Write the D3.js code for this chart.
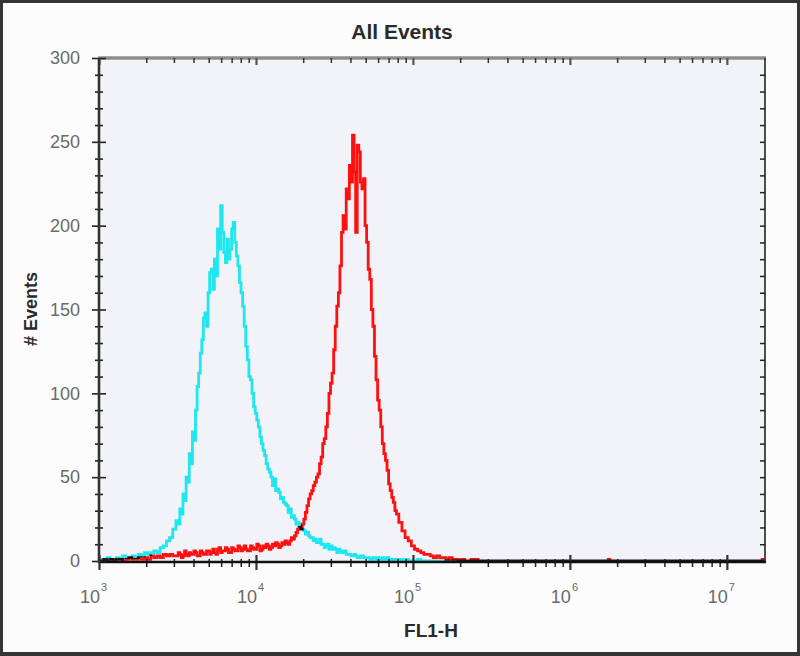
<!DOCTYPE html>
<html>
<head>
<meta charset="utf-8">
<script src="https://cdn.jsdelivr.net/npm/d3@7"></script>
<style>
html,body{margin:0;padding:0;background:#fff}
svg{display:block}
text{font-family:"Liberation Sans",Arial,Helvetica,sans-serif}
</style>
</head>
<body>
<svg id="chart" width="800" height="656"></svg>
<script>
// FL1-H channel position, as log10 of the intensity
const fl1Exp = [
  3.00,3.02,3.04,3.06,3.08,3.10,3.12,3.14,3.16,3.18,
  3.20,3.22,3.24,3.26,3.28,3.30,3.32,3.34,3.36,3.38,
  3.40,3.42,3.44,3.46,3.48,
  3.50,3.51,3.52,3.53,3.54,3.55,3.56,3.57,3.58,3.59,
  3.60,3.61,3.62,3.63,3.64,3.65,3.66,3.67,3.68,3.69,
  3.70,3.71,3.72,3.73,3.74,3.75,3.76,3.77,3.78,3.79,
  3.80,3.81,3.82,3.83,3.84,3.85,3.86,3.87,3.88,3.89,
  3.90,3.91,3.92,3.93,3.94,3.95,3.96,3.97,3.98,3.99,
  4.00,4.01,4.02,4.03,4.04,4.05,4.06,4.07,4.08,4.09,
  4.10,4.11,4.12,4.13,4.14,4.15,4.16,4.17,4.18,4.19,
  4.20,4.21,4.22,4.23,4.24,4.25,4.26,4.27,4.28,4.29,
  4.30,4.31,4.32,4.33,4.34,4.35,4.36,4.37,4.38,4.39,
  4.40,4.41,4.42,4.43,4.44,4.45,4.46,4.47,4.48,4.49,
  4.50,4.51,4.52,4.53,4.54,4.55,4.56,4.57,4.58,4.59,
  4.60,4.61,4.62,4.63,4.64,4.65,4.66,4.67,4.68,4.69,
  4.70,4.71,4.72,4.73,4.74,4.75,4.76,4.77,4.78,4.79,
  4.80,4.81,4.82,4.83,4.84,4.85,4.86,4.87,4.88,4.89,
  4.90,
  4.92,4.94,4.96,4.98,
  5.00,5.02,5.04,5.06,5.08,5.10,5.12,5.14,5.16,5.18,
  5.20,5.22,5.24,5.26,5.28,5.30,5.32,5.34,5.36,5.38,
  5.40,5.41,5.42,5.60,6.24,6.25,6.26,7.00,7.22,7.23,7.24
];
// control (cyan)
const cyanCounts = [
  0,1,0,2,1,1,2,1,3,2,
  2,3,2,4,3,5,4,5,6,5,
  8,9,12,14,19,
  24,22,31,28,40,36,50,47,64,58,
  77,72,90,104,112,124,132,145,148,140,
  160,172,174,162,180,170,198,186,212,196,
  184,178,192,180,186,198,202,190,182,176,
  166,160,152,140,128,120,110,108,100,92,
  88,84,80,74,70,66,63,58,55,53,
  50,45,49,42,43,41,37,38,35,34,
  33,29,31,26,27,25,22,23,21,19,
  19,18,16,17,15,14,14,12,13,11,
  11,13,10,10,8,9,10,7,9,7,
  8,7,5,7,6,5,5,6,4,4,
  4,3,3,4,3,2,2,3,3,2,
  2,2,2,1,1,2,2,1,2,1,
  1,2,1,1,2,1,1,0,1,1,
  1,
  1,0,1,0,
  0,0,1,0,0,0,0,0,0,0,
  0,0,0,0,0,0,0,0,0,0,
  0,0,0,0,0,0,0,0,0,0,0
];
// antibody stained (red)
const redCounts = [
  0,0,1,0,1,0,1,1,0,1,
  2,1,1,2,1,2,1,3,2,3,
  2,4,3,4,3,
  3,5,4,2,3,6,4,3,5,4,
  4,6,5,3,3,6,5,4,4,6,
  6,4,5,7,5,4,7,8,5,6,
  6,8,7,5,5,8,7,6,6,9,
  8,6,7,9,7,6,6,9,8,7,
  7,10,9,6,7,9,8,10,9,7,
  8,10,9,11,10,8,9,11,10,12,
  11,10,12,14,13,15,17,19,20,19,
  22,25,29,33,37,40,42,45,47,50,
  52,58,62,70,73,80,88,100,106,112,
  126,140,152,160,176,196,206,198,222,216,
  236,226,254,232,196,248,244,226,222,228,
  200,190,174,168,150,140,122,108,96,90,
  80,70,64,60,54,46,42,38,35,30,
  28,
  23,18,14,12,
  9,7,6,5,4,4,3,2,3,2,
  2,1,2,1,1,0,1,0,0,1,
  0,1,0,0,0,1,0,0,0,1,1
];
const yMajorTicks = [0,50,100,150,200,250,300];
const xDecades = [3,4,5,6,7];
const titleText = "All Events";
const xTitle = "FL1-H";
const yTitle = "# Events";

const svg = d3.select("#chart");
const plot = {left: 99, right: 765, top: 58, bottom: 561};

const x = d3.scaleLog().domain([1e3, 1.75e7]).range([plot.left, plot.right]);
const y = d3.scaleLinear().domain([0, 300]).range([plot.bottom, plot.top]);

// frame
svg.append("rect").attr("width", 800).attr("height", 656).attr("fill", "#353535");
svg.append("rect").attr("x", 3).attr("y", 3).attr("width", 794).attr("height", 649).attr("fill", "#fcfcfc");
svg.append("rect")
  .attr("x", plot.left).attr("y", plot.top)
  .attr("width", plot.right - plot.left).attr("height", plot.bottom - plot.top)
  .attr("fill", "#f2f3f9");

svg.append("clipPath").attr("id", "plotClip")
  .append("rect").attr("x", plot.left).attr("y", plot.top - 2)
  .attr("width", plot.right - plot.left).attr("height", plot.bottom - plot.top + 2);

const line = d3.line()
  .x(d => x(Math.pow(10, d[0])))
  .y(d => y(d[1]))
  .curve(d3.curveStep);

const curves = svg.append("g").attr("clip-path", "url(#plotClip)");
curves.append("path")
  .datum(fl1Exp.map((e, i) => [e, cyanCounts[i]]))
  .attr("d", line)
  .attr("fill", "none").attr("stroke", "#1fe6ef").attr("stroke-width", 2.8);
curves.append("path")
  .datum(fl1Exp.map((e, i) => [e, redCounts[i]]))
  .attr("d", line)
  .attr("fill", "none").attr("stroke", "#ff1010").attr("stroke-width", 2.8)
  .style("mix-blend-mode", "multiply");

// tick values
const xMajor = xDecades.map(d => Math.pow(10, d));
const xMinor = [];
xDecades.forEach(d => { for (let k = 2; k < 10; k++) { const v = k * Math.pow(10, d); if (v <= 1.75e7) xMinor.push(v); } });
const yMinor = d3.range(0, 301, 10).filter(v => v % 50 !== 0);

// frame lines
svg.append("line").attr("x1", plot.left - 1).attr("x2", plot.right + 1)
  .attr("y1", plot.top).attr("y2", plot.top).attr("stroke", "#8e8e8e").attr("stroke-width", 3.5);
svg.append("line").attr("x1", plot.right).attr("x2", plot.right)
  .attr("y1", plot.top).attr("y2", plot.bottom + 1).attr("stroke", "#222").attr("stroke-width", 1.6);

function ticks(g) { g.select(".domain").remove(); g.selectAll("text").remove(); }

// bottom
svg.append("g").attr("transform", `translate(0,${plot.bottom + 1})`)
  .call(d3.axisBottom(x).tickValues(xMinor).tickSize(5).tickFormat(""))
  .call(ticks).call(g => g.selectAll("line").attr("y1", -3).attr("stroke", "#222").attr("stroke-width", 1.5));
svg.append("g").attr("transform", `translate(0,${plot.bottom + 1})`)
  .call(d3.axisBottom(x).tickValues(xMajor).tickSize(8).tickFormat(""))
  .call(ticks).call(g => g.selectAll("line").attr("y1", -7).attr("stroke", "#333").attr("stroke-width", 2.2));
svg.append("line").attr("x1", plot.left - 1).attr("x2", plot.right + 1)
  .attr("y1", plot.bottom + 1).attr("y2", plot.bottom + 1).attr("stroke", "#111").attr("stroke-width", 2.5);

// top
svg.append("g").attr("transform", `translate(0,${plot.top})`)
  .call(d3.axisTop(x).tickValues(xMinor).tickSize(-5).tickFormat(""))
  .call(ticks).call(g => g.selectAll("line").attr("stroke", "#333").attr("stroke-width", 1.5));
svg.append("g").attr("transform", `translate(0,${plot.top})`)
  .call(d3.axisTop(x).tickValues(xMajor).tickSize(-7).tickFormat(""))
  .call(ticks).call(g => g.selectAll("line").attr("stroke", "#555").attr("stroke-width", 2.2));

// left
svg.append("g").attr("transform", `translate(${plot.left},0)`)
  .call(d3.axisLeft(y).tickValues(yMinor).tickSize(4).tickFormat(""))
  .call(ticks).call(g => g.selectAll("line").attr("x1", 4).attr("stroke", "#222").attr("stroke-width", 1.6));
svg.append("g").attr("transform", `translate(${plot.left},0)`)
  .call(d3.axisLeft(y).tickValues(yMajorTicks).tickSize(7).tickFormat(""))
  .call(ticks).call(g => g.selectAll("line").attr("x1", 7).attr("stroke", "#222").attr("stroke-width", 1.6));
svg.append("line").attr("x1", plot.left).attr("x2", plot.left)
  .attr("y1", plot.top).attr("y2", plot.bottom + 2).attr("stroke", "#333").attr("stroke-width", 2.6);

// right
svg.append("g").attr("transform", `translate(${plot.right},0)`)
  .call(d3.axisRight(y).tickValues(d3.range(10, 300, 10)).tickSize(-5).tickFormat(""))
  .call(ticks).call(g => g.selectAll("line").attr("stroke", "#222").attr("stroke-width", 1.5));

// y tick labels
svg.append("g").selectAll("text").data(yMajorTicks).join("text")
  .attr("x", 80).attr("y", d => y(d)).attr("dy", "0.35em")
  .attr("text-anchor", "end").attr("font-size", 18).attr("fill", "#6a6a6a")
  .text(d => d);

// x tick labels: 10 with superscript exponent
const xl = svg.append("g").selectAll("g").data(xDecades).join("g")
  .attr("transform", d => `translate(${x(Math.pow(10, d))},603)`);
xl.append("text").attr("x", 1).attr("text-anchor", "end")
  .attr("font-size", 18).attr("fill", "#6a6a6a").text("10");
xl.append("text").attr("x", 2).attr("y", -12)
  .attr("font-size", 11).attr("fill", "#6a6a6a").text(d => d);

// titles
svg.append("text").attr("x", 402).attr("y", 39).attr("text-anchor", "middle")
  .attr("font-size", 21).attr("font-weight", "bold").attr("fill", "#2a2a2a").text(titleText);
svg.append("text").attr("x", 431).attr("y", 637).attr("text-anchor", "middle")
  .attr("font-size", 19).attr("font-weight", "bold").attr("fill", "#2a2a2a").text(xTitle);
svg.append("text").attr("transform", "translate(37,309) rotate(-90)").attr("text-anchor", "middle")
  .attr("font-size", 18).attr("font-weight", "bold").attr("fill", "#2a2a2a").text(yTitle);
</script>
</body>
</html>
